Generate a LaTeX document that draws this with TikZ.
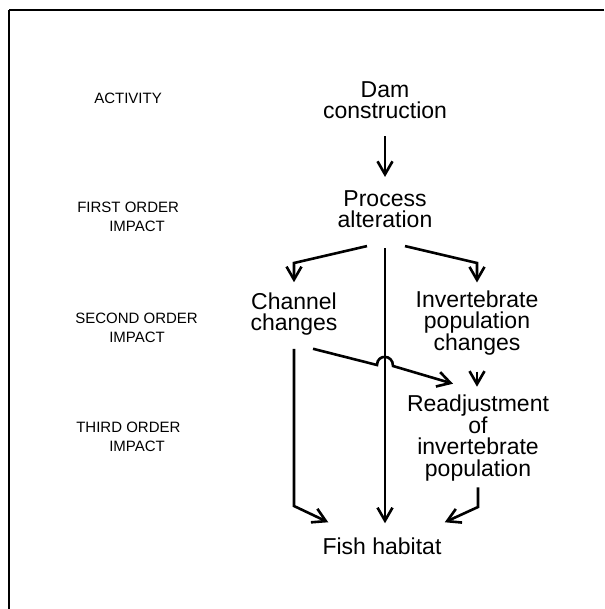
\documentclass[tikz,border=0pt]{standalone}
\usepackage{fontspec}
\setmainfont{Liberation Sans}
\usetikzlibrary{arrows.meta,calc}

\begin{document}
\begin{tikzpicture}[x=1pt, y=-1pt,
        line width=2.6pt,
        >={Straight Barb[length=13pt,width=15pt]}, % Pfeilspitzen
        ebene/.style={font=\fontsize{15}{19}\selectfont, align=left, anchor=west, inner sep=1pt},
        kasten/.style={font=\fontsize{23}{21.5}\selectfont, align=center, inner sep=1pt}
        ]
            \useasboundingbox (0,0) rectangle (604,609);

            % Rahmen
            \draw[line width=2.8pt] (604,10) -- (9,10);
            \draw[line width=1.8pt] (9,10) -- (9,609);

            % Ebenen
            \node[ebene] (act)    at (92,98)  {ACTIVITY};
            \node[ebene] (first)  at (75,217) {FIRST ORDER\\\hspace*{32pt}IMPACT};
            \node[ebene] (second) at (73,328) {SECOND ORDER\\\hspace*{34pt}IMPACT};
            \node[ebene] (third)  at (74,437) {THIRD ORDER\\\hspace*{33pt}IMPACT};

            % Kaesten
            \node[kasten] (dam)   at (385,100) {Dam\\construction};
            \node[kasten] (proc)  at (385,209) {Process\\alteration};
            \node[kasten] (chan)  at (294,314) {Channel\\changes};
            \node[kasten] (inv)   at (477,323) {Invertebrate\\population\\changes};
            \node[kasten] (readj) at (478,438) {Readjustment\\of\\invertebrate\\population};
            \node[kasten] (fish)  at (382,546) {Fish habitat};

            % Knicke
            \coordinate (lb) at (294,263);
            \coordinate (rb) at (477,263);
            \coordinate (cl) at (294,506);
            \coordinate (rl) at (478,507);

            % Pfeile
            \draw[->] ($(dam.south)+(0,15)$) -- ($(proc.north)+(0,-11)$);
            \draw[->] ($(proc.south)+(-18,16)$) -- (lb) -- ($(chan.north)+(0,-8)$);
            \draw[->] ($(proc.south)+(20,16)$) -- (rb) -- ($(inv.north)+(0,-6)$);
            \draw[->] ($(proc.south)+(0,18)$) -- ($(fish.north)+(3,-12)$);
            \draw[->] ($(chan.south)+(0,11)$) -- (cl) -- ($(fish.north west)+(8,-13)$);
            \draw[->] ($(chan.south)+(19,11)$) -- (377,365)
                      .. controls (377,354) and (393,354) .. (393,366)
                      -- ($(readj.north)+(-25,-9)$);
            \draw[->] ($(inv.south)+(0,14)$) -- ($(readj.north)+(-1,-6)$);
            \draw[->] ($(readj.south)+(0,4)$) -- (rl) -- ($(fish.north east)+(1,-13)$);
        \end{tikzpicture}
\end{document}
